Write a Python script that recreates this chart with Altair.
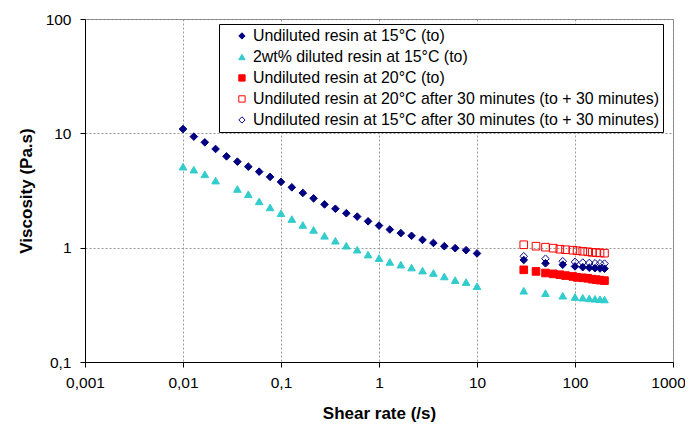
import altair as alt
import pandas as pd

# ---- data ----
series_names = [
    "Undiluted resin at 15°C (to)",
    "2wt% diluted resin at 15°C (to)",
    "Undiluted resin at 20°C (to)",
    "Undiluted resin at 20°C after 30 minutes (to + 30 minutes)",
    "Undiluted resin at 15°C after 30 minutes (to + 30 minutes)",
]

shear_low = [0.01, 0.0129, 0.0167, 0.0215, 0.0278, 0.0359, 0.0464, 0.0599, 0.0774,
             0.1, 0.129, 0.167, 0.215, 0.278, 0.359, 0.464, 0.599, 0.774,
             1, 1.29, 1.67, 2.15, 2.78, 3.59, 4.64, 5.99, 7.74, 10]
visc_u15_low = [10.9, 9.36, 8.34, 7.30, 6.29, 5.65, 5.11, 4.62, 4.16,
                3.76, 3.37, 3.01, 2.70, 2.39, 2.19, 2.00, 1.87, 1.70,
                1.56, 1.44, 1.34, 1.27, 1.17, 1.10, 1.03, 0.99, 0.95, 0.89]

shear_low_dil = [0.01, 0.0129, 0.0167, 0.0215, 0.0359, 0.0464, 0.0599, 0.0774,
                 0.1, 0.129, 0.167, 0.215, 0.278, 0.359, 0.464, 0.599, 0.774,
                 1, 1.29, 1.67, 2.15, 2.78, 3.59, 4.64, 5.99, 7.74, 10]
visc_d15_low = [5.11, 4.81, 4.38, 3.86, 3.26, 2.93, 2.54, 2.25,
                2.00, 1.78, 1.58, 1.43, 1.27, 1.15, 1.04, 0.96, 0.87,
                0.81, 0.75, 0.71, 0.67, 0.63, 0.60, 0.56, 0.52, 0.50, 0.46]

shear_high_d = [30, 50, 75, 100, 120, 140, 160, 180, 200]
visc_u15_high = [0.78, 0.73, 0.71, 0.686, 0.675, 0.668, 0.662, 0.658, 0.655]
visc_d15_high = [0.42, 0.40, 0.38, 0.37, 0.365, 0.36, 0.357, 0.354, 0.352]
visc_u15_30 = [0.84, 0.80, 0.76, 0.75, 0.74, 0.735, 0.73, 0.73, 0.725]

shear_high_s = [30, 40, 50, 60, 70, 80, 95, 105, 120, 135, 150, 165, 180, 200]
visc_u20 = [0.64, 0.62, 0.60, 0.59, 0.58, 0.57, 0.56, 0.55, 0.545, 0.54, 0.53, 0.525, 0.52, 0.515]
visc_u20_30 = [1.06, 1.03, 1.01, 0.99, 0.97, 0.96, 0.95, 0.94, 0.93, 0.92, 0.91, 0.905, 0.90, 0.895]

x_ticks = [0.001, 0.01, 0.1, 1, 10, 100, 1000]
y_ticks = [0.1, 1, 10, 100]

# ---- table ----
rows = []
def add(name, xs, ys):
    for x, y in zip(xs, ys):
        rows.append({"series": name, "shear": x, "visc": y})

add(series_names[0], shear_low + shear_high_d, visc_u15_low + visc_u15_high)
add(series_names[1], shear_low_dil + shear_high_d, visc_d15_low + visc_d15_high)
add(series_names[2], shear_high_s, visc_u20)
add(series_names[3], shear_high_s, visc_u20_30)
add(series_names[4], shear_high_d, visc_u15_30)
df = pd.DataFrame(rows)

fills = ["#000080", "#33CCCC", "#FF0000", "transparent", "transparent"]
strokes = ["#000080", "#33CCCC", "#FF0000", "#FF0000", "#000080"]
shapes = ["diamond", "triangle-up", "square", "square", "diamond"]

FONT = "Liberation Sans"
label_expr = "replace(toString(datum.value), '.', ',')"

legend = alt.Legend(
    orient="none", legendX=134, legendY=5,
    strokeColor="#000000", fillColor="white", padding=4,
    labelFont=FONT, labelFontSize=15.9, labelColor="black", labelLimit=600,
    labelOffset=3, symbolSize=40, symbolOffset=11, rowPadding=4, symbolStrokeWidth=1,
)

chart = alt.Chart(df).mark_point(opacity=1, strokeWidth=1, size=58).encode(
    x=alt.X("shear:Q",
            scale=alt.Scale(type="log", domain=[0.001, 1000]),
            axis=alt.Axis(values=x_ticks, labelExpr=label_expr, title="Shear rate (/s)",
                          grid=True, gridDash=[2, 2], gridColor="#999999",
                          tickSize=5, tickColor="black", domainColor="black",
                          labelFont=FONT, labelFontSize=15.5, labelColor="black",
                          labelFlush=False, labelOverlap=False, labelPadding=8,
                          labelOffset={"condition": {"test": "datum.value == 1000", "value": -5}, "value": 0},
                          titleFont=FONT, titleFontSize=17, titleFontWeight="bold",
                          titleColor="black", titlePadding=15)),
    y=alt.Y("visc:Q",
            scale=alt.Scale(type="log", domain=[0.1, 100]),
            axis=alt.Axis(values=y_ticks, labelExpr=label_expr, title="Viscosity (Pa.s)",
                          grid=True, gridDash=[2, 2], gridColor="#999999",
                          tickSize=5, tickColor="black", domainColor="black",
                          labelFont=FONT, labelFontSize=15.5, labelColor="black",
                          labelOverlap=False, labelPadding=9,
                          titleFont=FONT, titleFontSize=17, titleFontWeight="bold",
                          titleColor="black", titlePadding=10)),
    fill=alt.Fill("series:N", title="", scale=alt.Scale(domain=series_names, range=fills), legend=legend),
    stroke=alt.Stroke("series:N", title="", scale=alt.Scale(domain=series_names, range=strokes), legend=legend),
    shape=alt.Shape("series:N", title="", scale=alt.Scale(domain=series_names, range=shapes), legend=legend),
).properties(
    width=588, height=343,
    autosize=alt.AutoSizeParams(type="none"),
    padding={"left": 77, "top": 11, "right": 12, "bottom": 63},
).configure_view(stroke="#808080", strokeWidth=1)

chart.save("out.html", embed_options={"renderer": "svg", "actions": False})
